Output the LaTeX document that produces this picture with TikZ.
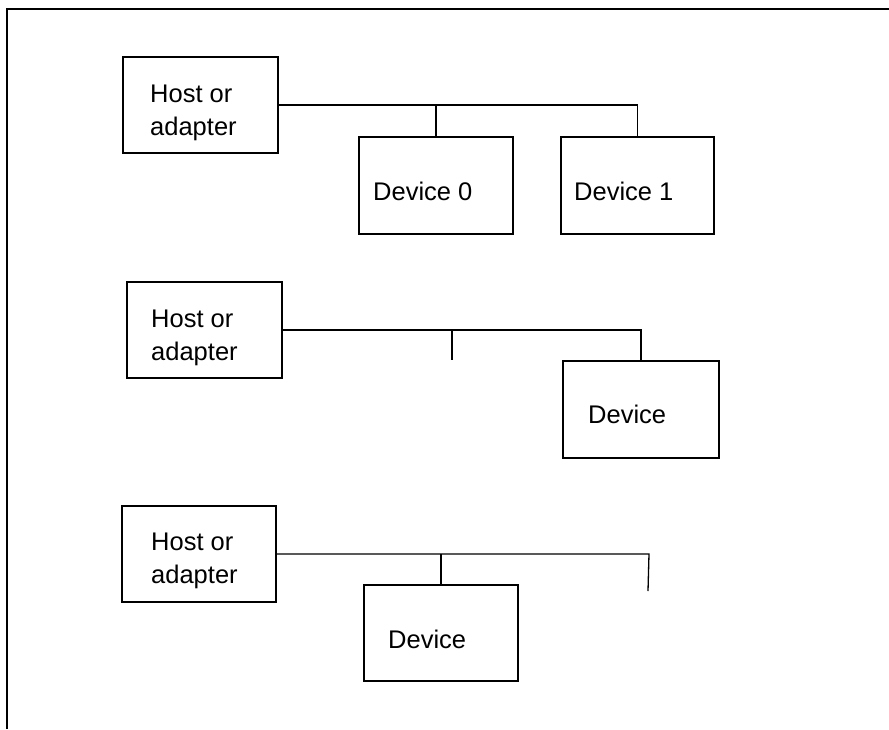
\documentclass[tikz,border=0pt]{standalone}
\usepackage{fontspec}
\setmainfont{Liberation Sans}
\begin{document}
\begin{tikzpicture}[x=1pt,y=-1pt,
  box/.style={draw,line width=1.5pt,rectangle,inner sep=0pt},
  txt/.style={anchor=base west,inner sep=0pt,font=\fontsize{25.5}{30}\selectfont},
  bus/.style={line width=1.3pt},
  frame/.style={line width=2pt}]
\useasboundingbox (0,0) rectangle (889,729);
% frame
\draw[frame] (7,729) -- (7,9) -- (889,9);
% row 1
\node[box,minimum width=155pt,minimum height=96pt] (h1) at (200.5,105) {};
\node[box,minimum width=154pt,minimum height=97pt] (d10) at (436,185.5) {};
\node[box,minimum width=153pt,minimum height=97pt] (d11) at (637.5,185.5) {};
\node[txt] (t1a) at (150,102) {Host or};
\node[txt] (t1b) at (150,135) {adapter};
\node[txt] (t10) at (373,200) {Device 0};
\node[txt] (t11) at (574,200) {Device 1};
\draw[bus] (h1.east) -| (d11.north);
\draw[bus] (h1.east -| d10.north) -- (d10.north);
% row 2
\node[box,minimum width=155pt,minimum height=96pt] (h2) at (204.5,330) {};
\node[box,minimum width=156pt,minimum height=97pt] (d2) at (641,409.5) {};
\node[txt] (t2a) at (151,327) {Host or};
\node[txt] (t2b) at (151,360) {adapter};
\node[txt] (t2d) at (588,423) {Device};
\coordinate (s2) at (452,360);
\draw[bus] (h2.east) -| (d2.north);
\draw[bus] (h2.east -| s2) -- (s2);
% row 3
\node[box,minimum width=154pt,minimum height=96pt] (h3) at (199,554) {};
\node[box,minimum width=154pt,minimum height=96pt] (d3) at (441,633) {};
\node[txt] (t3a) at (151,550) {Host or};
\node[txt] (t3b) at (151,583) {adapter};
\node[txt] (t3d) at (388,648) {Device};
\coordinate (e3) at (649,554);
\coordinate (s3) at (648,591);
\draw[bus] (h3.east) -- (e3) -- (s3);
\draw[bus] (h3.east -| d3.north) -- (d3.north);
\end{tikzpicture}
\end{document}
